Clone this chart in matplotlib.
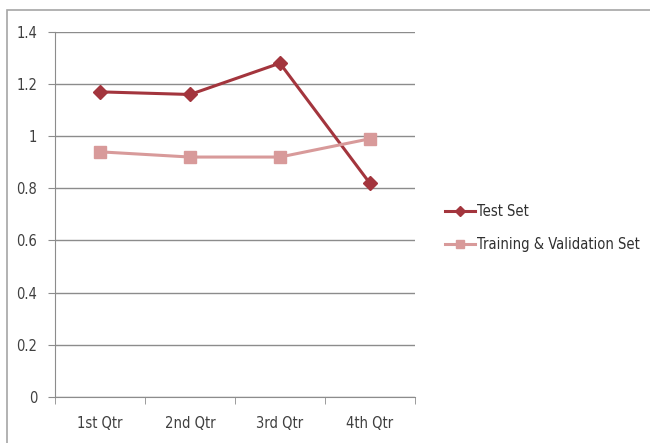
import numpy as np
import matplotlib
matplotlib.use("Agg")
import matplotlib.pyplot as plt
from matplotlib.patches import Rectangle

plt.rcParams['font.family'] = ['DejaVu Sans']
plt.rcParams['font.stretch'] = 'condensed'

quarters = ["1st Qtr", "2nd Qtr", "3rd Qtr", "4th Qtr"]
test_set = [1.17, 1.16, 1.28, 0.82]
train_val_set = [0.94, 0.92, 0.92, 0.99]
y_ticks = [0, 0.2, 0.4, 0.6, 0.8, 1, 1.2, 1.4]
y_labels = ["0", "0.2", "0.4", "0.6", "0.8", "1", "1.2", "1.4"]

fig = plt.figure(figsize=(6.5, 4.43), dpi=100)
ax = fig.add_axes([0.085, 0.104, 0.553, 0.824])

# chart area border
fig.add_artist(Rectangle((0.011, -0.05), 1.05, 1.027, transform=fig.transFigure,
                         fill=False, edgecolor="#a6a6a6", lw=1.2))

x = np.arange(len(quarters))
ax.plot(x, test_set, color="#a3353d", lw=2.2, marker="D", ms=7,
        label="Test Set")
ax.plot(x, train_val_set, color="#d89a9a", lw=2.2, marker="s", ms=8,
        label="Training & Validation Set")

ax.set_ylim(0, 1.4)
ax.set_xlim(-0.5, 3.5)
ax.set_yticks(y_ticks)
ax.set_yticklabels(y_labels)
ax.yaxis.grid(True, color="#8c8c8c", lw=1)
ax.set_axisbelow(True)

ax.set_xticks(x)
ax.set_xticklabels(quarters)
ax.set_xticks(np.arange(-0.5, 4, 1), minor=True)
ax.tick_params(axis="x", which="major", length=0, pad=14, labelsize=10.5, colors="#404040")
ax.tick_params(axis="x", which="minor", length=5, color="#8c8c8c")
ax.tick_params(axis="y", length=5, color="#8c8c8c", labelsize=10.5, colors="#404040", pad=8)

for s in ["top", "right"]:
    ax.spines[s].set_visible(False)
ax.spines["left"].set_color("#8c8c8c")
ax.spines["bottom"].set_color("#8c8c8c")

leg = fig.legend(loc="center left", bbox_to_anchor=(0.665, 0.485), frameon=False,
                 fontsize=10.5, handlelength=2.0, handletextpad=0.2, labelspacing=1.25,
                 markerscale=0.8)
for t in leg.get_texts():
    t.set_color("#303030")

fig.savefig("out.png", dpi=100)
